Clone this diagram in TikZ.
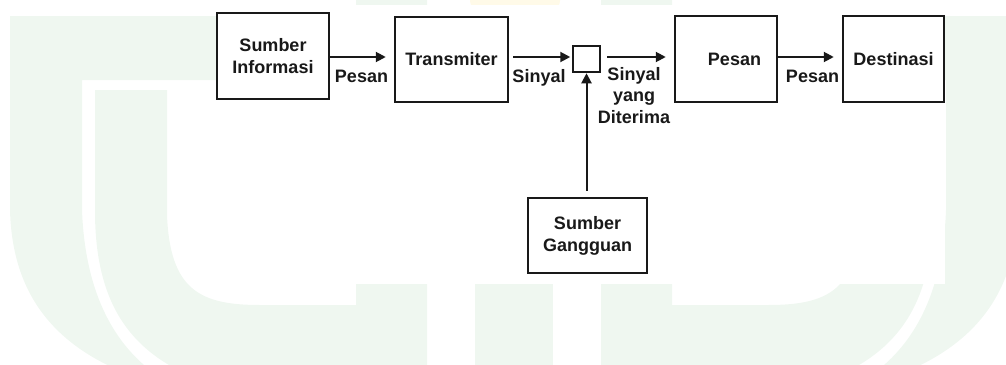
\documentclass[tikz,border=0pt]{standalone}
\usepackage{fontspec}
\setmainfont{Liberation Sans}
\usetikzlibrary{arrows.meta}
\definecolor{wm}{RGB}{239,247,240}
\definecolor{wmy}{RGB}{255,250,232}
\definecolor{ink}{RGB}{25,25,25}
\tikzset{
  blk/.style={draw=ink, line width=2.5pt, rectangle, inner sep=0pt, align=center,
    font=\bfseries\fontsize{18}{22}\selectfont, text=ink},
  lbl/.style={inner sep=0pt, font=\bfseries\fontsize{18}{21.5}\selectfont, text=ink, align=center},
  arr/.style={draw=ink, line width=2pt, -{Triangle[length=10pt,width=10pt]}},
  wmshape/.style={fill=wm, draw=none},
}
\begin{document}
\begin{tikzpicture}[x=1pt,y=-1pt]
\useasboundingbox (0,0) rectangle (1006,364);
% ---- watermark (left half and its mirror) ----
\foreach \s/\t in {1/0, -1/1028} {
  \begin{scope}[xshift=\t pt, xscale=\s]
    \fill[wmshape] (10,16) -- (260,16) -- (260,80) -- (82,80) -- (82,210)
      .. controls (85,290) and (112,340) .. (150,370) -- (118,370)
      .. controls (50,340) and (12,290) .. (10,210) -- cycle;
    \fill[wmshape] (95,90) -- (167,90) -- (167,215)
      .. controls (170,290) and (200,305) .. (260,305) -- (356,305) -- (356,-5)
      -- (427,-5) -- (427,370) -- (178,370)
      .. controls (120,340) and (96,290) .. (95,215) -- cycle;
  \end{scope}
}
\fill[wmshape] (475,-5) rectangle (553,370);
\fill[wmy, rounded corners=8pt] (470,-20) rectangle (560,9);
\fill[white] (216,5) rectangle (945,284);
% ---- diagram ----
\coordinate (row) at (0,57);
\node[blk, minimum width=112pt, minimum height=86pt] (src) at (273,56) {Sumber\\Informasi};
\node[blk, minimum width=113pt, minimum height=85pt] (tx) at (451.5,59.5) {Transmiter};
\node[blk, minimum width=27pt, minimum height=26pt] (sum) at (586.5,59) {};
\node[blk, minimum width=102pt, minimum height=86pt] (rx) at (726,59) {\hspace*{17pt}Pesan};
\node[blk, minimum width=101pt, minimum height=86pt] (dst) at (893.5,59) {Destinasi};
\node[blk, minimum width=119pt, minimum height=75pt] (noise) at (587.5,235.5) {Sumber\\Gangguan};

\draw[arr, shorten >=8pt] (src.east |- row) -- (tx.west |- row);
\draw[arr, shorten <=4pt, shorten >=1.5pt] (tx.east |- row) -- (sum.west |- row);
\draw[arr, shorten <=6pt, shorten >=8pt] (sum.east |- row) -- (rx.west |- row);
\draw[arr, shorten >=8pt] (rx.east |- row) -- (dst.west |- row);
\draw[arr, shorten <=6pt] (noise.north -| sum.south) -- (sum.south);

\node[lbl, anchor=base] (l1) at (361.5,82) {Pesan};
\node[lbl, anchor=base] (l2) at (539,82) {Sinyal};
\node[lbl, anchor=north] (l3) at (634,67) {Sinyal\\yang\\Diterima};
\node[lbl, anchor=base] (l4) at (812.5,82) {Pesan};
\end{tikzpicture}
\end{document}
